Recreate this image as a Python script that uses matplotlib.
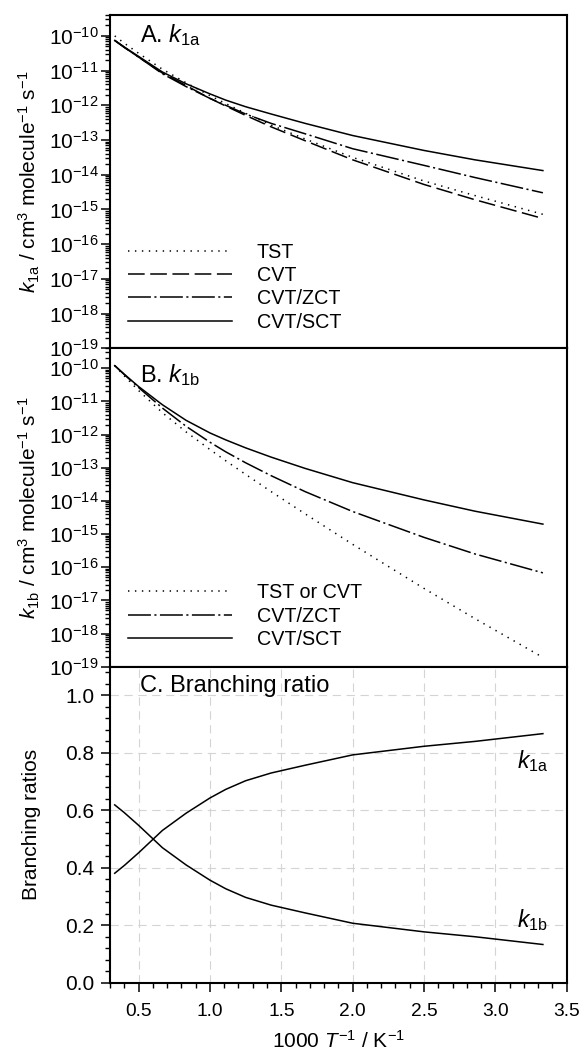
import numpy as np
import matplotlib
matplotlib.use("Agg")
import matplotlib.pyplot as plt
from matplotlib import ticker

plt.rcParams['font.family'] = ['Liberation Sans', 'DejaVu Sans']
plt.rcParams['mathtext.fontset'] = 'custom'
plt.rcParams['mathtext.rm'] = 'Liberation Sans'
plt.rcParams['mathtext.it'] = 'Liberation Sans:italic'
plt.rcParams['mathtext.bf'] = 'Liberation Sans:bold'
plt.rcParams['lines.scale_dashes'] = False

# 1000/T values (K^-1)
inv_T = [0.333, 0.4, 0.5, 0.667, 0.833, 1.0, 1.111, 1.25, 1.429, 1.667, 2.0, 2.5, 2.857, 3.333]

# panel A: k1a (cm3 molecule-1 s-1), read as log10
k1a_tst = [-10.00, -10.21, -10.50, -10.96, -11.35, -11.72, -11.95, -12.23, -12.57, -12.97, -13.50, -14.18, -14.60, -15.14]
k1a_cvt = [-10.13, -10.33, -10.61, -11.07, -11.43, -11.80, -12.02, -12.29, -12.62, -13.02, -13.57, -14.28, -14.72, -15.26]
k1a_zct = [-10.13, -10.33, -10.61, -11.09, -11.46, -11.80, -12.00, -12.25, -12.52, -12.82, -13.25, -13.73, -14.08, -14.52]
k1a_sct = [-10.13, -10.32, -10.59, -11.04, -11.38, -11.67, -11.85, -12.04, -12.25, -12.52, -12.87, -13.30, -13.57, -13.88]

# panel B: k1b, log10
k1b_tst = [-9.92, -10.23, -10.67, -11.34, -11.92, -12.45, -12.79, -13.20, -13.72, -14.39, -15.31, -16.64, -17.55, -18.72]
k1b_zct = [-9.92, -10.19, -10.58, -11.20, -11.75, -12.23, -12.52, -12.85, -13.24, -13.72, -14.32, -15.10, -15.60, -16.17]
k1b_sct = [-9.92, -10.18, -10.55, -11.10, -11.57, -11.95, -12.16, -12.40, -12.68, -13.02, -13.45, -13.97, -14.31, -14.70]

# panel C: branching ratios
br_1a = [0.381, 0.408, 0.452, 0.530, 0.590, 0.643, 0.673, 0.703, 0.730, 0.757, 0.793, 0.823, 0.840, 0.867]
br_1b = [0.619, 0.592, 0.548, 0.470, 0.410, 0.357, 0.327, 0.297, 0.270, 0.243, 0.207, 0.177, 0.160, 0.133]

# decades labelled on the rate axes
decades = [-19, -18, -17, -16, -15, -14, -13, -12, -11, -10]

LW = 1.1
DOT = (0, (1, 4))
DASH = (0, (12, 4))
DASHDOT = (0, (16.5, 2.5, 1.5, 2.5))
FS = 15

fig = plt.figure(figsize=(5.79, 10.53), dpi=100)
left, width = 0.19, 0.7888
axA = fig.add_axes([left, 0.66923, width, 0.31652])
axB = fig.add_axes([left, 0.36686, width, 0.30237])
axC = fig.add_axes([left, 0.06676, width, 0.30009])


def style_axis(ax):
    for sp in ax.spines.values():
        sp.set_linewidth(1.5)
    ax.tick_params(which='major', direction='out', length=6.3, width=1.1, labelsize=FS, pad=5)
    ax.tick_params(which='minor', direction='out', length=3.5, width=1.0)
    ax.set_xlim(0.3, 3.5)


def log_axis(ax):
    ax.set_yscale('log')
    ax.set_ylim(1e-19, 4e-10)
    ax.yaxis.set_major_locator(ticker.FixedLocator(10.0 ** np.array(decades, dtype=float)))
    ax.yaxis.set_minor_locator(ticker.LogLocator(base=10, subs=np.arange(2, 10), numticks=300))
    ax.yaxis.set_minor_formatter(ticker.NullFormatter())
    ax.tick_params(axis='y', which='major', pad=2)
    ax.tick_params(axis='x', which='both', bottom=False, labelbottom=False)


def add_legend(ax, y0):
    ax.legend(loc='lower left', bbox_to_anchor=(0.039, y0), frameon=False, fontsize=14.2,
              handlelength=5.26, handletextpad=1.27, labelspacing=0.22,
              borderpad=0, borderaxespad=0)


# panel A
style_axis(axA)
log_axis(axA)
axA.plot(inv_T, 10.0 ** np.array(k1a_tst), color='black', lw=LW, linestyle=DOT, label='TST')
axA.plot(inv_T, 10.0 ** np.array(k1a_cvt), color='black', lw=LW, linestyle=DASH, label='CVT')
axA.plot(inv_T, 10.0 ** np.array(k1a_zct), color='black', lw=LW, linestyle=DASHDOT, label='CVT/ZCT')
axA.plot(inv_T, 10.0 ** np.array(k1a_sct), color='black', lw=LW, label='CVT/SCT')
axA.text(0.066, 0.94, r'A. $k_{\rm 1a}$', transform=axA.transAxes, fontsize=17, va='center', ha='left')
axA.set_ylabel(r'$k_{\rm 1a}$ / cm$^3$ molecule$^{-1}$ s$^{-1}$', fontsize=FS)
axA.yaxis.set_label_coords(-0.15, 0.5)
add_legend(axA, 0.05)

# panel B
style_axis(axB)
log_axis(axB)
axB.plot(inv_T, 10.0 ** np.array(k1b_tst), color='black', lw=LW, linestyle=DOT, label='TST or CVT')
axB.plot(inv_T, 10.0 ** np.array(k1b_zct), color='black', lw=LW, linestyle=DASHDOT, label='CVT/ZCT')
axB.plot(inv_T, 10.0 ** np.array(k1b_sct), color='black', lw=LW, label='CVT/SCT')
axB.text(0.066, 0.916, r'B. $k_{\rm 1b}$', transform=axB.transAxes, fontsize=17, va='center', ha='left')
axB.set_ylabel(r'$k_{\rm 1b}$ / cm$^3$ molecule$^{-1}$ s$^{-1}$', fontsize=FS)
axB.yaxis.set_label_coords(-0.15, 0.5)
add_legend(axB, 0.056)

# panel C
style_axis(axC)
axC.set_ylim(0, 1.1)
axC.yaxis.set_major_locator(ticker.MultipleLocator(0.2))
axC.yaxis.set_minor_locator(ticker.AutoMinorLocator(5))
axC.yaxis.set_major_formatter(ticker.FormatStrFormatter('%.1f'))
axC.xaxis.set_major_locator(ticker.MultipleLocator(0.5))
axC.xaxis.set_minor_locator(ticker.MultipleLocator(0.1))
axC.xaxis.set_major_formatter(ticker.FormatStrFormatter('%.1f'))
axC.tick_params(axis='x', which='major', pad=8, labelsize=13.8)
axC.grid(True, which='major', color='#d4d4d4', linestyle=(0, (6, 4)), linewidth=0.8)
axC.set_axisbelow(True)
axC.plot(inv_T, br_1a, color='black', lw=LW)
axC.plot(inv_T, br_1b, color='black', lw=LW)
axC.text(3.15, 0.771, r'$k_{\rm 1a}$', fontsize=16.5, va='center', ha='left')
axC.text(3.15, 0.217, r'$k_{\rm 1b}$', fontsize=16.5, va='center', ha='left')
axC.text(0.066, 0.939, 'C. Branching ratio', transform=axC.transAxes, fontsize=17, va='center', ha='left')
axC.set_ylabel('Branching ratios', fontsize=FS)
axC.yaxis.set_label_coords(-0.152, 0.5)
axC.set_xlabel(r'1000 $T^{-1}$ / K$^{-1}$', fontsize=FS)
axC.xaxis.set_label_coords(0.5, -0.148)

fig.savefig('out.png', dpi=100)
